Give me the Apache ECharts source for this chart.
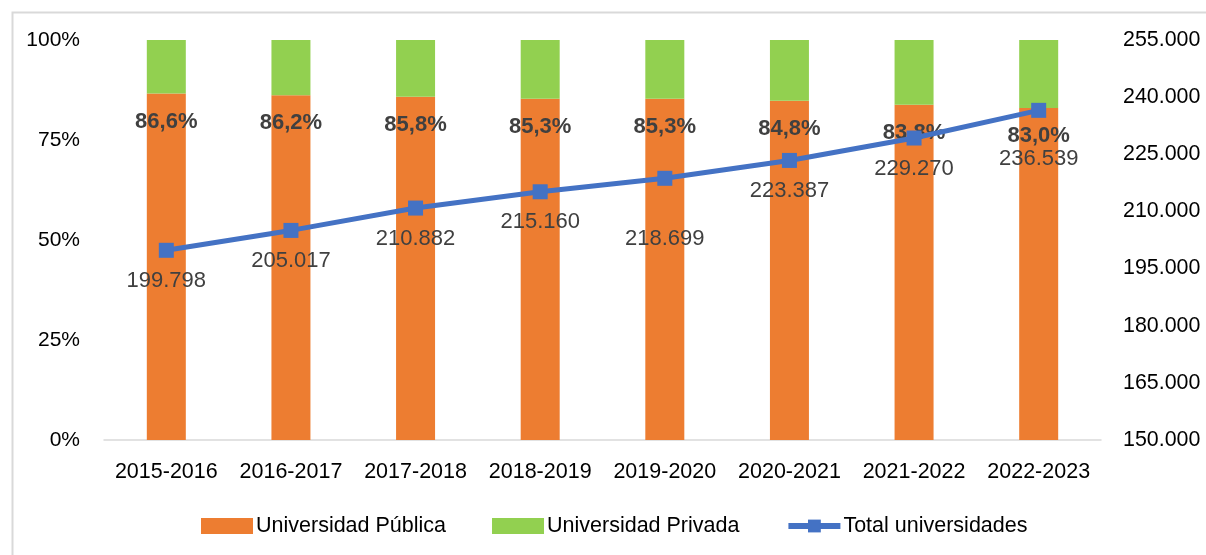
<!DOCTYPE html>
<html>
<head>
<meta charset="utf-8">
<script src="https://cdn.jsdelivr.net/npm/echarts@6/dist/echarts.min.js"></script>
<style>
html,body{margin:0;padding:0;background:#fff;}
#chart{width:1206px;height:555px;}
</style>
</head>
<body>
<div id="chart"></div>
<script>
const categories = ['2015-2016','2016-2017','2017-2018','2018-2019','2019-2020','2020-2021','2021-2022','2022-2023'];
const publicaPct = [86.6, 86.2, 85.8, 85.3, 85.3, 84.8, 83.8, 83.0];
const privadaPct = [13.4, 13.8, 14.2, 14.7, 14.7, 15.2, 16.2, 17.0];
const totalUniv = [199798, 205017, 210882, 215160, 218699, 223387, 229270, 236539];
const leftTicks = ['0%','25%','50%','75%','100%'];

const FONT = '"Liberation Sans", Arial, sans-serif';
// extra downward label offsets for a few line labels (layout, not data)
const lineLabelExtra = {4: 30, 7: 18};

function fmtThousands(v){
  return String(Math.round(v)).replace(/\B(?=(\d{3})+(?!\d))/g, '.');
}

const chart = echarts.init(document.getElementById('chart'), null, {renderer:'canvas'});
chart.setOption({
  animation:false,
  backgroundColor:'#fff',
  graphic:[{type:'rect', left:10, top:10, shape:{width:1400, height:700}, style:{fill:'none', stroke:'#d9d9d9', lineWidth:2}, silent:true}],
  grid:{left:104, right:105, top:40, bottom:115},
  legend:{
    bottom:13, left:196, itemGap:46, itemWidth:52, itemHeight:16,
    textStyle:{fontFamily:FONT, fontSize:21.5, color:'#000', padding:[0,0,0,-2]},
    data:[
      {name:'Universidad Pública', icon:'rect'},
      {name:'Universidad Privada', icon:'rect'},
      {name:'Total universidades', lineStyle:{width:6}}
    ]
  },
  xAxis:{
    type:'category', data:categories,
    axisLine:{lineStyle:{color:'#d9d9d9', width:1.5}},
    axisTick:{show:false},
    axisLabel:{fontFamily:FONT, fontSize:21.5, color:'#000', margin:21, interval:0}
  },
  yAxis:[
    {type:'value', min:0, max:100, interval:25,
     axisLabel:{fontFamily:FONT, fontSize:21, color:'#000', margin:24, formatter:v=>leftTicks[v/25]},
     splitLine:{show:false}, axisLine:{show:false}, axisTick:{show:false}},
    {type:'value', min:150000, max:255000, interval:15000, position:'right',
     axisLabel:{fontFamily:FONT, fontSize:21.4, color:'#000', margin:22, formatter:v=>fmtThousands(v)},
     splitLine:{show:false}, axisLine:{show:false}, axisTick:{show:false}}
  ],
  series:[
    {name:'Universidad Pública', type:'bar', stack:'s', data:publicaPct, barWidth:39,
     itemStyle:{color:'#ED7D31'},
     label:{show:true, position:'insideTop', distance:17, fontFamily:FONT, fontSize:22, fontWeight:'bold', color:'#404040',
            formatter:p=>p.value.toFixed(1).replace('.', ',')+'%'}},
    {name:'Universidad Privada', type:'bar', stack:'s', data:privadaPct, barWidth:39,
     itemStyle:{color:'#92D050'}},
    {name:'Total universidades', type:'line', yAxisIndex:1,
     data:totalUniv.map((v,i)=>({value:v, label:{offset:[0, lineLabelExtra[i]||0]}})),
     symbol:'rect', symbolSize:15,
     lineStyle:{color:'#4472C4', width:5},
     itemStyle:{color:'#4472C4'},
     z:5,
     label:{show:true, position:'bottom', distance:12, fontFamily:FONT, fontSize:22, color:'#404040',
            formatter:p=>fmtThousands(p.value)}}
  ]
});
</script>
</body>
</html>
